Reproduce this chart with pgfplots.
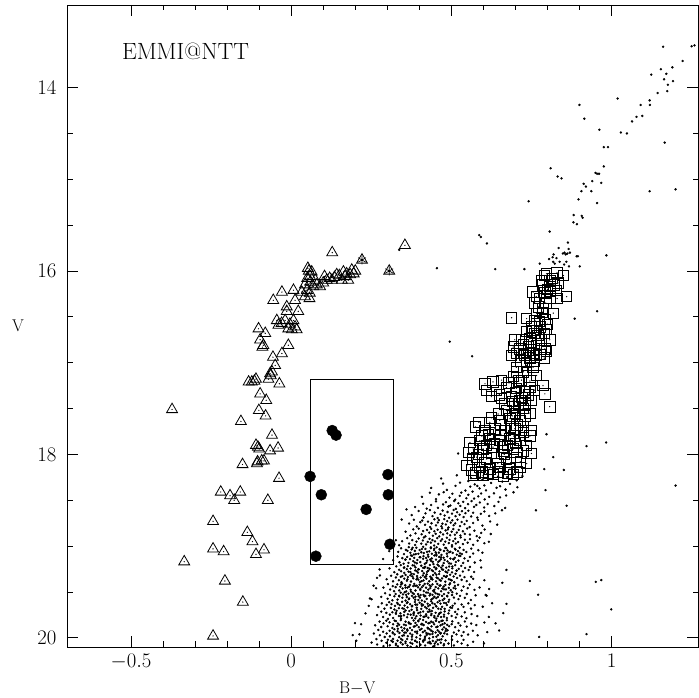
\documentclass[border=0pt]{standalone}
\usepackage{pgfplots}
\usepackage{pgfplotstable}
\pgfplotsset{compat=1.18}
\pgfdeclareplotmark{tridot}{%
  \pgfpathmoveto{\pgfqpoint{0pt}{\pgfplotmarksize}}%
  \pgfpathlineto{\pgfqpoint{-0.866\pgfplotmarksize}{-0.5\pgfplotmarksize}}%
  \pgfpathlineto{\pgfqpoint{0.866\pgfplotmarksize}{-0.5\pgfplotmarksize}}%
  \pgfpathclose\pgfusepathqstroke
  \pgfpathcircle{\pgfpointorigin}{0.7pt}\pgfusepathqfill}
\pgfdeclareplotmark{sqdot}{%
  \pgfpathrectangle{\pgfqpoint{-\pgfplotmarksize}{-\pgfplotmarksize}}{\pgfqpoint{2\pgfplotmarksize}{2\pgfplotmarksize}}\pgfusepathqstroke
  \pgfpathcircle{\pgfpointorigin}{0.7pt}\pgfusepathqfill}

\pgfplotstableread[row sep=\\]{x y\\
0.128 15.80\\ 0.221 15.88\\ 0.306 16.00\\ 0.355 15.72\\ 0.052 15.97\\ 0.064 16.01\\ 0.059 16.06\\ 0.104 16.06\\
0.111 16.10\\ 0.127 16.10\\ 0.142 16.04\\ 0.163 16.01\\ 0.189 15.99\\ 0.168 16.06\\ 0.184 16.04\\ 0.178 16.10\\
0.158 16.10\\ 0.043 16.15\\ 0.033 16.23\\ 0.049 16.21\\ 0.043 16.28\\ 0.057 16.30\\ 0.069 16.17\\ 0.080 16.15\\
0.090 16.17\\ 0.100 16.13\\ -0.029 16.23\\ 0.007 16.21\\ -0.056 16.32\\ 0.012 16.32\\ -0.014 16.39\\ 0.022 16.44\\
-0.014 16.44\\ -0.045 16.54\\ -0.040 16.59\\ -0.019 16.54\\ -0.009 16.63\\ 0.007 16.54\\ 0.012 16.61\\ 0.002 16.64\\
0.017 16.64\\ -0.102 16.63\\ -0.081 16.68\\ -0.097 16.75\\ -0.087 16.81\\ -0.090 16.83\\ -0.009 16.81\\ -0.057 16.94\\
-0.029 16.90\\ -0.050 17.03\\ -0.060 17.10\\ -0.066 17.12\\ -0.037 17.23\\ -0.071 17.18\\ -0.110 17.18\\ -0.123 17.21\\
-0.133 17.21\\ -0.097 17.34\\ -0.078 17.41\\ -0.101 17.52\\ -0.080 17.58\\ -0.372 17.51\\ -0.157 17.64\\ -0.060 17.79\\
-0.110 17.90\\ -0.100 17.94\\ -0.041 17.93\\ -0.066 17.96\\ -0.092 18.07\\ -0.107 18.10\\ -0.085 18.07\\ -0.152 18.11\\
-0.038 18.26\\ -0.220 18.41\\ -0.191 18.45\\ -0.178 18.50\\ -0.159 18.41\\ -0.073 18.50\\ -0.244 18.73\\ -0.137 18.85\\
-0.121 18.95\\ -0.244 19.03\\ -0.211 19.06\\ -0.110 19.09\\ -0.085 19.04\\ -0.334 19.17\\ -0.207 19.38\\ -0.151 19.61\\
-0.244 19.98\\ 0.120 16.08\\ 0.135 16.07\\ 0.150 16.05\\ 0.173 16.03\\ 0.195 16.03\\ 0.200 16.00\\ 0.060 16.12\\
0.075 16.10\\ 0.050 16.08\\ 0.055 16.00\\ -0.004 16.58\\ -0.030 16.57\\ 0.058 16.24\\ -0.064 17.14\\ -0.105 18.08\\
-0.104 17.92\\ -0.115 17.20\\
}\tri

\pgfplotstableread[row sep=\\]{x y\\
0.797 16.03\\ 0.830 16.02\\ 0.781 16.10\\ 0.807 16.10\\ 0.833 16.13\\ 0.786 16.15\\ 0.807 16.17\\ 0.826 16.21\\
0.755 16.23\\ 0.792 16.24\\ 0.830 16.30\\ 0.807 16.30\\ 0.771 16.39\\ 0.786 16.41\\ 0.818 16.46\\ 0.766 16.46\\
0.688 16.51\\ 0.735 16.52\\ 0.761 16.54\\ 0.792 16.53\\ 0.750 16.61\\ 0.776 16.61\\ 0.797 16.64\\ 0.735 16.66\\
0.761 16.68\\ 0.698 16.75\\ 0.719 16.75\\ 0.745 16.74\\ 0.781 16.75\\ 0.807 16.75\\ 0.693 16.83\\ 0.714 16.85\\
0.740 16.83\\ 0.766 16.81\\ 0.792 16.85\\ 0.703 16.90\\ 0.729 16.92\\ 0.755 16.90\\ 0.776 16.91\\ 0.688 16.92\\
0.724 16.90\\ 0.766 16.92\\ 0.797 16.88\\ 0.703 17.05\\ 0.735 17.03\\ 0.766 17.14\\ 0.693 17.15\\ 0.719 17.19\\
0.657 17.19\\ 0.630 17.21\\ 0.605 17.23\\ 0.610 17.30\\ 0.786 17.25\\ 0.792 17.34\\ 0.745 17.27\\ 0.641 17.30\\
0.672 17.27\\ 0.703 17.28\\ 0.729 17.32\\ 0.625 17.37\\ 0.657 17.39\\ 0.688 17.37\\ 0.714 17.41\\ 0.750 17.41\\
0.807 17.48\\ 0.698 17.48\\ 0.724 17.50\\ 0.672 17.52\\ 0.646 17.56\\ 0.586 17.65\\ 0.620 17.65\\ 0.651 17.63\\
0.683 17.61\\ 0.714 17.63\\ 0.750 17.74\\ 0.605 17.74\\ 0.636 17.72\\ 0.667 17.74\\ 0.698 17.72\\ 0.724 17.76\\
0.558 17.87\\ 0.589 17.85\\ 0.620 17.83\\ 0.651 17.85\\ 0.683 17.83\\ 0.714 17.85\\ 0.568 17.94\\ 0.599 17.94\\
0.630 17.92\\ 0.662 17.96\\ 0.693 17.94\\ 0.724 17.96\\ 0.750 17.99\\ 0.579 18.03\\ 0.610 18.05\\ 0.641 18.03\\
0.672 18.05\\ 0.703 18.03\\ 0.548 18.12\\ 0.563 18.17\\ 0.589 18.14\\ 0.620 18.16\\ 0.651 18.14\\ 0.683 18.16\\
0.714 18.14\\ 0.568 18.23\\ 0.599 18.23\\ 0.630 18.22\\ 0.662 18.24\\ 0.693 18.22\\
0.575 17.70\\ 0.595 17.80\\ 0.615 17.78\\ 0.635 17.88\\ 0.655 17.78\\ 0.675 17.90\\ 0.695 17.80\\ 0.705 17.68\\
0.585 18.00\\ 0.605 18.09\\ 0.625 17.99\\ 0.645 18.10\\ 0.665 18.00\\ 0.685 18.09\\ 0.705 17.98\\ 0.715 18.08\\
0.595 18.19\\ 0.615 18.20\\ 0.645 18.19\\ 0.675 18.20\\ 0.705 18.19\\ 0.735 18.10\\ 0.735 17.90\\ 0.745 17.80\\
0.565 18.05\\ 0.555 17.98\\ 0.575 18.20\\ 0.625 17.60\\ 0.655 17.68\\ 0.685 17.70\\ 0.725 17.70\\ 0.610 17.90\\
0.660 17.92\\ 0.700 17.88\\
0.705 17.10\\ 0.725 17.10\\ 0.745 17.20\\ 0.680 17.22\\ 0.700 17.33\\ 0.740 17.35\\ 0.760 17.30\\ 0.730 17.45\\
0.745 17.55\\ 0.700 17.55\\ 0.665 17.45\\ 0.690 17.42\\ 0.710 17.20\\ 0.735 17.00\\ 0.755 17.05\\ 0.715 16.98\\
0.720 17.38\\ 0.710 17.45\\ 0.730 17.58\\ 0.690 17.58\\ 0.650 17.35\\
0.745 16.95\\ 0.760 16.98\\ 0.780 16.85\\ 0.750 16.78\\ 0.770 16.70\\ 0.790 16.68\\ 0.755 16.65\\ 0.775 16.55\\
0.800 16.58\\ 0.785 16.45\\ 0.795 16.35\\ 0.775 16.30\\ 0.760 16.35\\ 0.810 16.22\\ 0.790 16.05\\ 0.815 16.08\\
0.820 16.15\\ 0.800 16.20\\ 0.765 16.28\\ 0.740 16.86\\ 0.725 16.80\\ 0.790 16.95\\ 0.850 16.05\\ 0.860 16.28\\
}\sq

\begin{document}
\begin{tikzpicture}
\begin{axis}[name=ax, scale only axis, width=631pt, height=642pt,
  xmin=-0.7, xmax=1.27, ymin=13.1, ymax=20.1, y dir=reverse,
  xtick={-0.5,0,0.5,1}, minor x tick num=4,
  ytick={14,16,18,20}, minor y tick num=3,
  tick align=inside, tick pos=both,
  major tick length=11pt, minor tick length=5.5pt,
  axis line style={line width=0.9pt},
  every tick/.style={black, line width=0.8pt},
  ticklabel style={font=\fontsize{20}{20}\selectfont},
  y tick label style={xshift=-7pt},
  x tick label style={yshift=-4pt},
  xlabel={B$-$V}, ylabel={V},
  label style={font=\fontsize{17}{17}\selectfont},
  xlabel style={at={(axis description cs:0.46,0)}, anchor=base, yshift=-47pt},
  ylabel style={at={(axis description cs:0,0.5)}, anchor=center, rotate=-90, xshift=-49pt},
]
% main sequence / subgiant dots
\addplot[only marks, mark=*, mark size=1.0pt, black] coordinates {
(0.468,18.262)(0.517,18.228)(0.553,18.291)(0.584,18.237)(0.597,18.275)(0.612,18.214)(0.628,18.268)(0.646,18.241)(0.659,18.296)(0.674,18.247)(0.693,18.219)(0.704,18.283)(0.722,18.236)(0.561,18.259)
(0.437,18.366)(0.474,18.318)(0.486,18.387)(0.513,18.343)(0.527,18.307)(0.544,18.394)(0.559,18.352)(0.573,18.326)(0.588,18.371)(0.603,18.338)(0.608,18.392)(0.624,18.311)(0.641,18.364)(0.652,18.347)(0.669,18.383)(0.683,18.322)(0.706,18.358)(0.581,18.344)
(0.408,18.463)(0.433,18.418)(0.452,18.487)(0.461,18.436)(0.476,18.412)(0.494,18.471)(0.503,18.429)(0.512,18.494)(0.526,18.452)(0.531,18.416)(0.547,18.478)(0.553,18.441)(0.566,18.405)(0.571,18.482)(0.584,18.457)(0.593,18.426)(0.604,18.491)(0.618,18.463)(0.633,18.424)(0.652,18.469)(0.671,18.448)(0.694,18.413)
(0.387,18.574)(0.412,18.538)(0.423,18.591)(0.437,18.552)(0.452,18.513)(0.458,18.583)(0.474,18.546)(0.483,18.521)(0.491,18.568)(0.497,18.557)(0.509,18.508)(0.514,18.594)(0.522,18.533)(0.528,18.562)(0.537,18.517)(0.543,18.586)(0.552,18.543)(0.563,18.509)(0.571,18.572)(0.578,18.551)(0.589,18.524)(0.602,18.579)(0.613,18.541)(0.634,18.563)(0.647,18.518)(0.668,18.584)
(0.376,18.662)(0.398,18.617)(0.413,18.688)(0.419,18.643)(0.433,18.607)(0.441,18.673)(0.448,18.634)(0.457,18.694)(0.466,18.652)(0.473,18.612)(0.479,18.667)(0.488,18.628)(0.493,18.691)(0.502,18.645)(0.507,18.606)(0.513,18.674)(0.518,18.631)(0.526,18.658)(0.533,18.619)(0.538,18.683)(0.544,18.641)(0.553,18.614)(0.562,18.677)(0.568,18.636)(0.581,18.689)(0.592,18.648)(0.603,18.622)(0.618,18.671)(0.637,18.643)(0.658,18.609)
(0.368,18.754)(0.383,18.712)(0.392,18.786)(0.403,18.739)(0.409,18.721)(0.418,18.768)(0.427,18.733)(0.434,18.792)(0.438,18.751)(0.447,18.708)(0.452,18.773)(0.458,18.742)(0.461,18.717)(0.469,18.784)(0.472,18.755)(0.478,18.706)(0.483,18.764)(0.487,18.728)(0.491,18.797)(0.498,18.744)(0.503,18.719)(0.507,18.772)(0.512,18.753)(0.519,18.711)(0.527,18.782)(0.532,18.737)(0.541,18.761)(0.548,18.724)(0.557,18.793)(0.568,18.748)(0.583,18.714)(0.597,18.776)(0.621,18.731)(0.643,18.766)
(0.357,18.843)(0.372,18.884)(0.381,18.817)(0.388,18.862)(0.398,18.809)(0.407,18.871)(0.412,18.836)(0.419,18.893)(0.424,18.824)(0.431,18.853)(0.437,18.812)(0.442,18.887)(0.447,18.838)(0.451,18.866)(0.457,18.821)(0.462,18.894)(0.466,18.849)(0.471,18.806)(0.474,18.873)(0.482,18.829)(0.487,18.861)(0.489,18.818)(0.496,18.882)(0.501,18.843)(0.506,18.814)(0.511,18.876)(0.517,18.852)(0.523,18.823)(0.528,18.884)(0.536,18.839)(0.542,18.867)(0.549,18.808)(0.558,18.874)(0.572,18.832)(0.579,18.891)(0.593,18.856)(0.604,18.819)(0.623,18.868)
(0.346,18.947)(0.362,18.913)(0.368,18.972)(0.378,18.934)(0.387,18.988)(0.391,18.951)(0.398,18.917)(0.406,18.973)(0.411,18.938)(0.414,18.906)(0.421,18.982)(0.426,18.954)(0.432,18.921)(0.436,18.962)(0.441,18.934)(0.446,18.993)(0.449,18.948)(0.456,18.912)(0.459,18.976)(0.467,18.943)(0.471,18.925)(0.476,18.984)(0.481,18.951)(0.486,18.908)(0.492,18.967)(0.494,18.932)(0.502,18.989)(0.506,18.946)(0.512,18.919)(0.514,18.972)(0.521,18.956)(0.529,18.905)(0.536,18.978)(0.542,18.931)(0.551,18.963)(0.558,18.924)(0.568,18.986)(0.582,18.941)(0.588,18.907)(0.603,18.968)(0.327,18.936)(0.617,18.953)
(0.334,19.063)(0.343,19.024)(0.352,19.087)(0.358,19.041)(0.367,19.012)(0.372,19.073)(0.376,19.036)(0.383,19.091)(0.386,19.052)(0.391,19.018)(0.397,19.084)(0.401,19.043)(0.406,19.067)(0.412,19.008)(0.414,19.076)(0.419,19.031)(0.427,19.094)(0.431,19.057)(0.436,19.022)(0.439,19.083)(0.446,19.044)(0.451,19.068)(0.454,19.013)(0.461,19.071)(0.463,19.034)(0.469,19.096)(0.477,19.053)(0.481,19.019)(0.486,19.082)(0.488,19.047)(0.493,19.066)(0.502,19.006)(0.504,19.074)(0.511,19.029)(0.517,19.093)(0.521,19.055)(0.526,19.017)(0.533,19.086)(0.538,19.042)(0.547,19.064)(0.562,19.027)(0.568,19.081)(0.584,19.045)(0.306,19.054)(0.597,19.072)(0.447,19.028)
(0.318,19.154)(0.332,19.113)(0.338,19.176)(0.347,19.131)(0.351,19.192)(0.357,19.147)(0.362,19.118)(0.366,19.183)(0.371,19.142)(0.377,19.106)(0.381,19.163)(0.384,19.128)(0.392,19.187)(0.394,19.152)(0.401,19.121)(0.403,19.174)(0.412,19.138)(0.413,19.109)(0.422,19.181)(0.424,19.157)(0.428,19.116)(0.437,19.163)(0.439,19.134)(0.444,19.196)(0.452,19.148)(0.453,19.103)(0.459,19.172)(0.467,19.144)(0.468,19.123)(0.476,19.185)(0.479,19.152)(0.487,19.112)(0.488,19.167)(0.497,19.136)(0.499,19.191)(0.506,19.143)(0.511,19.127)(0.514,19.173)(0.522,19.158)(0.528,19.107)(0.537,19.184)(0.541,19.133)(0.552,19.161)(0.558,19.118)(0.573,19.179)(0.287,19.141)(0.591,19.156)(0.421,19.129)(0.462,19.118)(0.442,19.171)
(0.307,19.243)(0.322,19.284)(0.328,19.221)(0.337,19.258)(0.342,19.207)(0.343,19.274)(0.352,19.236)(0.353,19.292)(0.361,19.251)(0.364,19.218)(0.372,19.283)(0.373,19.244)(0.379,19.209)(0.387,19.265)(0.388,19.231)(0.396,19.289)(0.398,19.253)(0.406,19.214)(0.409,19.272)(0.416,19.238)(0.418,19.226)(0.424,19.281)(0.432,19.247)(0.433,19.206)(0.439,19.263)(0.447,19.229)(0.449,19.294)(0.453,19.241)(0.461,19.217)(0.463,19.276)(0.471,19.254)(0.473,19.212)(0.482,19.278)(0.484,19.234)(0.491,19.262)(0.493,19.223)(0.502,19.286)(0.503,19.242)(0.512,19.208)(0.516,19.268)(0.523,19.249)(0.531,19.216)(0.536,19.277)(0.543,19.238)(0.554,19.261)(0.558,19.227)(0.571,19.282)(0.276,19.254)(0.593,19.233)(0.428,19.268)(0.412,19.236)(0.452,19.252)(0.468,19.234)(0.392,19.274)
(0.298,19.361)(0.312,19.323)(0.318,19.384)(0.327,19.342)(0.331,19.307)(0.336,19.372)(0.342,19.335)(0.344,19.393)(0.353,19.354)(0.357,19.314)(0.361,19.378)(0.364,19.337)(0.372,19.318)(0.374,19.386)(0.381,19.352)(0.383,19.306)(0.391,19.363)(0.393,19.327)(0.402,19.391)(0.404,19.343)(0.411,19.321)(0.413,19.374)(0.422,19.356)(0.423,19.309)(0.431,19.383)(0.434,19.332)(0.441,19.364)(0.443,19.316)(0.452,19.385)(0.454,19.343)(0.462,19.304)(0.463,19.369)(0.471,19.352)(0.477,19.326)(0.481,19.388)(0.483,19.338)(0.492,19.361)(0.496,19.312)(0.501,19.374)(0.507,19.331)(0.509,19.394)(0.518,19.347)(0.527,19.322)(0.532,19.368)(0.541,19.339)(0.548,19.381)(0.562,19.334)(0.568,19.357)(0.268,19.346)(0.603,19.372)(0.417,19.339)(0.438,19.347)(0.458,19.351)(0.378,19.331)(0.397,19.366)(0.486,19.326)
(0.288,19.452)(0.302,19.414)(0.309,19.473)(0.317,19.436)(0.321,19.492)(0.326,19.447)(0.331,19.418)(0.337,19.483)(0.341,19.443)(0.346,19.407)(0.348,19.462)(0.356,19.427)(0.359,19.494)(0.363,19.453)(0.371,19.423)(0.373,19.476)(0.381,19.437)(0.384,19.412)(0.388,19.484)(0.396,19.449)(0.401,19.421)(0.403,19.468)(0.412,19.431)(0.414,19.491)(0.421,19.453)(0.426,19.409)(0.428,19.474)(0.436,19.438)(0.441,19.417)(0.443,19.486)(0.451,19.447)(0.456,19.413)(0.459,19.461)(0.466,19.428)(0.468,19.493)(0.476,19.441)(0.481,19.424)(0.483,19.472)(0.492,19.456)(0.496,19.406)(0.498,19.481)(0.511,19.434)(0.513,19.463)(0.521,19.422)(0.532,19.484)(0.538,19.442)(0.551,19.458)(0.557,19.419)(0.572,19.477)(0.257,19.432)(0.588,19.451)(0.618,19.468)(0.408,19.448)(0.432,19.427)(0.447,19.476)(0.368,19.442)(0.392,19.431)(0.472,19.462)
(0.281,19.553)(0.293,19.514)(0.301,19.574)(0.308,19.532)(0.316,19.591)(0.322,19.547)(0.326,19.522)(0.332,19.583)(0.337,19.541)(0.342,19.508)(0.347,19.563)(0.349,19.527)(0.357,19.594)(0.361,19.556)(0.366,19.518)(0.368,19.572)(0.377,19.543)(0.379,19.512)(0.387,19.584)(0.388,19.551)(0.396,19.523)(0.402,19.562)(0.404,19.534)(0.408,19.593)(0.416,19.547)(0.421,19.506)(0.423,19.576)(0.432,19.538)(0.434,19.521)(0.438,19.582)(0.447,19.553)(0.451,19.514)(0.453,19.567)(0.462,19.528)(0.463,19.596)(0.471,19.543)(0.477,19.524)(0.478,19.573)(0.487,19.548)(0.491,19.509)(0.493,19.584)(0.502,19.533)(0.508,19.561)(0.517,19.518)(0.522,19.578)(0.527,19.542)(0.542,19.564)(0.548,19.522)(0.561,19.587)(0.576,19.536)(0.246,19.571)(0.607,19.532)(0.419,19.544)(0.441,19.532)(0.398,19.546)(0.458,19.554)(0.382,19.563)(0.359,19.531)
(0.272,19.663)(0.283,19.624)(0.291,19.682)(0.298,19.641)(0.306,19.612)(0.311,19.674)(0.313,19.633)(0.322,19.691)(0.324,19.652)(0.331,19.618)(0.336,19.677)(0.339,19.643)(0.346,19.607)(0.352,19.683)(0.354,19.648)(0.361,19.621)(0.363,19.668)(0.371,19.634)(0.376,19.694)(0.378,19.652)(0.386,19.609)(0.392,19.672)(0.393,19.638)(0.401,19.617)(0.406,19.684)(0.408,19.651)(0.417,19.606)(0.418,19.664)(0.426,19.628)(0.431,19.692)(0.433,19.643)(0.441,19.623)(0.443,19.673)(0.452,19.654)(0.457,19.612)(0.459,19.681)(0.466,19.627)(0.471,19.662)(0.477,19.618)(0.479,19.684)(0.486,19.643)(0.491,19.608)(0.502,19.673)(0.504,19.651)(0.511,19.626)(0.521,19.688)(0.532,19.637)(0.538,19.662)(0.553,19.624)(0.561,19.681)(0.573,19.644)(0.242,19.652)(0.598,19.661)(0.627,19.623)(0.412,19.642)(0.428,19.654)(0.388,19.637)(0.448,19.633)
(0.268,19.752)(0.281,19.714)(0.287,19.773)(0.297,19.728)(0.302,19.793)(0.308,19.747)(0.316,19.721)(0.318,19.784)(0.327,19.738)(0.329,19.706)(0.336,19.762)(0.341,19.733)(0.343,19.791)(0.352,19.754)(0.353,19.718)(0.362,19.776)(0.364,19.743)(0.369,19.708)(0.377,19.783)(0.382,19.751)(0.383,19.722)(0.391,19.764)(0.397,19.731)(0.402,19.794)(0.404,19.757)(0.412,19.713)(0.413,19.772)(0.421,19.744)(0.427,19.716)(0.428,19.781)(0.437,19.753)(0.439,19.707)(0.447,19.763)(0.451,19.727)(0.453,19.792)(0.461,19.742)(0.467,19.724)(0.468,19.774)(0.477,19.748)(0.479,19.712)(0.486,19.783)(0.491,19.734)(0.501,19.762)(0.512,19.718)(0.514,19.779)(0.518,19.743)(0.532,19.767)(0.542,19.722)(0.547,19.786)(0.563,19.741)(0.581,19.763)(0.232,19.734)(0.617,19.772)(0.422,19.762)(0.438,19.738)(0.382,19.733)(0.458,19.764)(0.342,19.768)
(0.262,19.864)(0.276,19.823)(0.281,19.882)(0.288,19.842)(0.297,19.813)(0.301,19.874)(0.307,19.832)(0.316,19.893)(0.318,19.852)(0.327,19.818)(0.331,19.871)(0.333,19.843)(0.342,19.807)(0.344,19.884)(0.352,19.856)(0.357,19.824)(0.358,19.863)(0.367,19.836)(0.371,19.892)(0.373,19.847)(0.382,19.811)(0.386,19.874)(0.388,19.838)(0.397,19.819)(0.398,19.883)(0.406,19.854)(0.412,19.806)(0.413,19.862)(0.421,19.827)(0.426,19.891)(0.428,19.841)(0.437,19.823)(0.438,19.876)(0.446,19.852)(0.452,19.814)(0.453,19.883)(0.462,19.828)(0.466,19.864)(0.469,19.816)(0.477,19.887)(0.479,19.842)(0.486,19.809)(0.493,19.873)(0.501,19.851)(0.503,19.821)(0.512,19.884)(0.522,19.839)(0.528,19.866)(0.542,19.822)(0.548,19.877)(0.562,19.844)(0.578,19.861)(0.603,19.833)(0.218,19.852)(0.638,19.842)(0.408,19.846)(0.432,19.838)(0.472,19.853)(0.368,19.844)(0.392,19.861)
(0.258,19.953)(0.272,19.914)(0.277,19.972)(0.287,19.933)(0.292,19.991)(0.298,19.952)(0.307,19.923)(0.308,19.984)(0.317,19.941)(0.322,19.906)(0.323,19.963)(0.332,19.928)(0.337,19.993)(0.338,19.947)(0.347,19.921)(0.352,19.972)(0.353,19.943)(0.362,19.908)(0.364,19.982)(0.371,19.953)(0.377,19.916)(0.378,19.967)(0.387,19.934)(0.391,19.994)(0.393,19.951)(0.402,19.912)(0.403,19.974)(0.411,19.938)(0.417,19.923)(0.418,19.986)(0.427,19.954)(0.432,19.907)(0.433,19.962)(0.442,19.932)(0.443,19.992)(0.451,19.942)(0.457,19.918)(0.458,19.971)(0.466,19.953)(0.472,19.909)(0.473,19.983)(0.482,19.927)(0.487,19.961)(0.488,19.918)(0.502,19.982)(0.508,19.942)(0.516,19.963)(0.523,19.921)(0.532,19.978)(0.538,19.937)(0.552,19.964)(0.567,19.923)(0.582,19.973)(0.612,19.938)(0.213,19.962)(0.422,19.947)(0.441,19.958)(0.462,19.934)(0.478,19.951)(0.358,19.943)
(0.251,20.052)(0.266,20.014)(0.268,20.073)(0.282,20.032)(0.288,20.091)(0.297,20.054)(0.302,20.021)(0.308,20.082)(0.317,20.043)(0.318,20.012)(0.327,20.063)(0.332,20.031)(0.333,20.092)(0.342,20.051)(0.347,20.024)(0.348,20.072)(0.357,20.041)(0.362,20.013)(0.363,20.084)(0.372,20.053)(0.377,20.018)(0.378,20.064)(0.387,20.033)(0.392,20.093)(0.393,20.047)(0.402,20.011)(0.403,20.074)(0.412,20.042)(0.417,20.022)(0.418,20.083)(0.427,20.052)(0.431,20.007)(0.436,20.061)(0.442,20.034)(0.443,20.094)(0.452,20.043)(0.457,20.023)(0.458,20.071)(0.467,20.053)(0.469,20.016)(0.476,20.082)(0.482,20.028)(0.491,20.062)(0.502,20.021)(0.508,20.083)(0.519,20.041)(0.532,20.062)(0.538,20.022)(0.551,20.081)(0.568,20.043)(0.602,20.061)(0.203,20.032)(0.432,20.043)(0.448,20.063)(0.412,20.028)
(0.363,19.052)(0.379,19.019)(0.389,19.087)(0.408,19.031)(0.424,19.062)(0.436,19.014)(0.453,19.088)(0.466,19.042)(0.484,19.023)(0.497,19.061)(0.513,19.038)(0.527,19.079)
(0.356,19.148)(0.374,19.102)(0.386,19.178)(0.403,19.121)(0.417,19.193)(0.434,19.146)(0.447,19.102)(0.463,19.161)(0.476,19.127)(0.493,19.188)(0.507,19.142)(0.524,19.107)
(0.353,19.232)(0.366,19.278)(0.384,19.213)(0.397,19.252)(0.414,19.297)(0.426,19.238)(0.443,19.273)(0.457,19.202)(0.474,19.257)(0.487,19.288)(0.503,19.222)(0.517,19.267)
(0.347,19.327)(0.363,19.363)(0.376,19.302)(0.394,19.348)(0.407,19.382)(0.421,19.328)(0.437,19.358)(0.453,19.312)(0.467,19.377)(0.484,19.333)(0.497,19.368)(0.513,19.302)
(0.343,19.418)(0.357,19.452)(0.374,19.497)(0.387,19.433)(0.403,19.478)(0.417,19.412)(0.434,19.458)(0.446,19.498)(0.463,19.432)(0.477,19.472)(0.494,19.418)(0.507,19.457)
(0.337,19.548)(0.354,19.503)(0.367,19.578)(0.383,19.522)(0.397,19.588)(0.413,19.532)(0.427,19.508)(0.443,19.568)(0.457,19.522)(0.473,19.588)(0.487,19.542)(0.503,19.502)
(0.333,19.632)(0.347,19.678)(0.363,19.612)(0.377,19.658)(0.393,19.698)(0.407,19.632)(0.423,19.678)(0.437,19.602)(0.453,19.658)(0.467,19.688)(0.483,19.622)(0.497,19.668)
(0.327,19.728)(0.343,19.762)(0.357,19.702)(0.373,19.748)(0.387,19.788)(0.403,19.722)(0.417,19.768)(0.433,19.712)(0.447,19.778)(0.463,19.732)(0.477,19.768)(0.493,19.702)
(0.323,19.812)(0.337,19.858)(0.353,19.898)(0.367,19.832)(0.383,19.878)(0.397,19.812)(0.413,19.858)(0.427,19.898)(0.443,19.832)(0.457,19.878)(0.473,19.812)(0.487,19.858)
(0.317,19.948)(0.333,19.902)(0.347,19.978)(0.363,19.922)(0.377,19.988)(0.393,19.932)(0.407,19.902)(0.423,19.968)(0.437,19.922)(0.453,19.988)(0.467,19.948)(0.483,19.902)
(0.313,20.032)(0.327,20.078)(0.343,20.012)(0.357,20.058)(0.373,20.098)(0.387,20.032)(0.403,20.078)(0.417,20.002)(0.433,20.058)(0.447,20.088)(0.463,20.022)(0.477,20.068)
};
% giant branch and field dots
\addplot[only marks, mark=*, mark size=1.0pt, black] coordinates {
(1.161,13.555)(1.250,13.55)(1.259,13.54)(1.222,13.71)(1.190,13.78)(1.154,13.80)(1.124,13.86)(1.171,13.85)(1.164,13.91)(1.192,13.93)(1.176,13.97)
(1.144,14.06)(1.174,14.04)(1.019,14.12)(1.119,14.14)(1.120,14.19)(1.091,14.19)(0.900,14.19)(0.915,14.34)(1.096,14.31)(1.078,14.32)(1.064,14.37)
(0.962,14.46)(1.029,14.49)(1.048,14.50)(1.166,14.60)(0.976,14.65)(0.989,14.65)(0.810,14.88)(0.976,14.86)(0.832,14.97)(0.844,14.99)
(0.950,14.93)(0.955,14.94)(0.961,14.94)(0.940,15.02)(0.968,15.04)(0.913,15.05)(0.920,15.08)(0.906,15.13)(0.937,15.13)(1.119,15.13)
(0.741,15.24)(0.897,15.22)(0.955,15.26)(0.882,15.39)(0.907,15.40)(0.910,15.42)(0.881,15.47)(0.892,15.49)(0.807,15.57)(0.611,15.70)
(0.864,15.69)(0.835,15.75)(0.866,15.76)(0.853,15.80)(0.857,15.82)(0.862,15.81)(0.848,15.81)(0.870,15.80)(0.819,15.82)(0.816,15.85)
(0.805,15.87)(0.895,15.84)(0.984,15.83)(0.587,15.61)(0.637,15.98)(0.728,15.98)(0.838,15.90)(0.818,15.90)(0.823,15.92)(0.859,15.90)
(0.867,15.95)(0.852,15.93)(0.891,15.84)(0.901,15.95)(0.776,15.92)(0.828,15.86)(0.885,16.52)(0.495,16.77)(0.565,16.93)(0.955,16.44)
(0.797,17.78)(0.922,17.91)(0.818,18.03)(0.790,18.16)(0.851,18.17)(0.521,17.99)(0.794,18.39)(0.764,18.61)(0.860,18.56)(0.360,18.60)
(0.345,18.71)(0.745,19.38)(0.771,19.53)(0.951,19.39)(0.968,19.37)(0.999,19.69)(0.922,19.96)(0.774,19.99)(0.277,19.32)(0.251,19.58)
(0.265,19.46)(0.199,19.84)(0.192,19.97)(0.672,19.26)(0.672,19.63)(0.610,19.54)(0.659,19.40)(0.649,19.92)(0.662,19.73)(0.337,15.77)
(0.337,18.99)(0.455,15.97)(0.592,15.63)(1.20,15.11)(1.20,18.34)(0.983,17.87)
};
% horizontal branch stars
\addplot[only marks, mark=tridot, mark size=6.3pt, mark options={line width=0.8pt, draw=black, fill=black}] table[x=x,y=y] {\tri};
\addplot[only marks, mark=asterisk, mark size=4.5pt, mark options={line width=0.7pt, black}] coordinates {(0.221,15.88)(0.306,16.00)};
% red giant branch / clump stars
\addplot[only marks, mark=sqdot, mark size=5.2pt, mark options={line width=0.8pt, draw=black, fill=black}] table[x=x,y=y] {\sq};
% selection box
\addplot[black, line width=0.8pt, mark=none] coordinates {(0.059,17.18)(0.318,17.18)(0.318,19.20)(0.059,19.20)(0.059,17.18)};
% filled circles
\addplot[only marks, mark=*, mark size=5.5pt, black] coordinates {
(0.128,17.74)(0.140,17.79)(0.059,18.24)(0.302,18.22)(0.094,18.44)(0.303,18.44)(0.234,18.60)(0.308,18.98)(0.077,19.11)};
\node[font=\fontsize{23.5}{23.5}\selectfont] at (axis cs:-0.33,13.61) {EMMI@NTT};
\end{axis}
\pgfresetboundingbox
\path ([shift={(-67pt,-51pt)}]ax.south west) rectangle ([shift={(1pt,5pt)}]ax.north east);
\end{tikzpicture}
\end{document}
